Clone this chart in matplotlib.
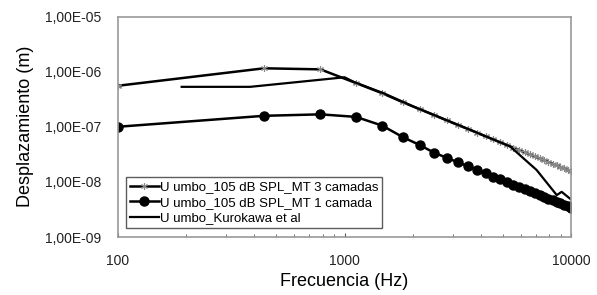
import matplotlib.pyplot as plt

# Frecuencias (Hz) de las simulaciones
freq_mt = [100, 441, 783, 1124, 1466, 1807, 2148, 2490, 2831, 3172,
           3514, 3855, 4197, 4538, 4879, 5221, 5562, 5903, 6245, 6586,
           6928, 7269, 7610, 7952, 8293, 8634, 8976, 9317, 9659, 10000]

# Desplazamiento umbo, 105 dB SPL, MT 3 camadas
umbo_3cam = [5.55e-7, 1.15e-6, 1.10e-6, 6.2e-7, 4.06e-7, 2.79e-7, 2.08e-7, 1.62e-7, 1.30e-7, 1.07e-7,
             9.1e-8, 7.75e-8, 6.7e-8, 5.88e-8, 5.2e-8, 4.64e-8, 4.18e-8, 3.78e-8, 3.43e-8, 3.14e-8,
             2.89e-8, 2.66e-8, 2.47e-8, 2.29e-8, 2.13e-8, 1.99e-8, 1.86e-8, 1.75e-8, 1.65e-8, 1.56e-8]

# Desplazamiento umbo, 105 dB SPL, MT 1 camada
umbo_1cam = [1.0e-7, 1.58e-7, 1.68e-7, 1.51e-7, 1.05e-7, 6.5e-8, 4.66e-8, 3.37e-8, 2.73e-8, 2.26e-8,
             1.91e-8, 1.64e-8, 1.43e-8, 1.25e-8, 1.11e-8, 9.9e-9, 8.9e-9, 8.1e-9, 7.4e-9, 6.75e-9,
             6.2e-9, 5.74e-9, 5.32e-9, 4.95e-9, 4.61e-9, 4.32e-9, 4.06e-9, 3.81e-9, 3.59e-9, 3.39e-9]

# Kurokawa et al
freq_kuro = [191, 383, 1000, 1100, 1500, 2000, 3000, 4000, 5380, 7050, 8650, 9090, 10000]
umbo_kuro = [5.3e-7, 5.3e-7, 7.9e-7, 6.5e-7, 4.0e-7, 2.36e-7, 1.19e-7, 7.3e-8, 4.4e-8, 1.64e-8,
             5.75e-9, 6.6e-9, 4.8e-9]

yticks = [1e-9, 1e-8, 1e-7, 1e-6, 1e-5]
ytick_labels = ['1,00E-09', '1,00E-08', '1,00E-07', '1,00E-06', '1,00E-05']
xticks = [100, 1000, 10000]
xtick_labels = ['100', '1000', '10000']

plt.rcParams['font.family'] = ['Liberation Sans', 'DejaVu Sans']
narrow = ['Liberation Sans Narrow', 'DejaVu Sans Condensed', 'Liberation Sans']

fig = plt.figure(figsize=(5.97, 2.95), dpi=100)
ax = fig.add_axes([0.1977, 0.1966, 0.7588, 0.7474])

ax.plot(freq_mt, umbo_3cam, color='black', linewidth=1.8, marker=(6, 2, 0),
        markersize=5, markeredgecolor='#888888', markeredgewidth=0.8,
        label='U umbo_105 dB SPL_MT 3 camadas')
ax.plot(freq_mt, umbo_1cam, color='black', linewidth=1.8, marker='o',
        markersize=6.5, label='U umbo_105 dB SPL_MT 1 camada')
ax.plot(freq_kuro, umbo_kuro, color='black', linewidth=1.6,
        label='U umbo_Kurokawa et al')

ax.set_xscale('log')
ax.set_yscale('log')
ax.set_xlim(100, 10000)
ax.set_ylim(1e-9, 1e-5)
ax.set_yticks(yticks)
ax.set_yticklabels(ytick_labels)
ax.set_xticks(xticks)
ax.set_xticklabels(xtick_labels)
ax.yaxis.set_minor_locator(plt.NullLocator())
ax.tick_params(axis='both', which='major', labelsize=10, length=0, pad=12, labelcolor='#222222')
ax.tick_params(axis='x', which='minor', direction='in', length=2.5, color='#555555')
ax.tick_params(axis='x', which='major', length=3, direction='in', color='#555555')

for s in ax.spines.values():
    s.set_color('#999999')
    s.set_linewidth(1.2)

ax.set_xlabel('Frecuencia (Hz)', fontsize=13, family=narrow, labelpad=4)
ax.set_ylabel('Desplazamiento (m)', fontsize=13, family=narrow, labelpad=8)

leg = ax.legend(loc='lower left', bbox_to_anchor=(0.017, 0.04), fontsize=9.5, frameon=True,
                fancybox=False, edgecolor='#333333', handlelength=2.2, handletextpad=0.1,
                borderpad=0.3, labelspacing=0.25, borderaxespad=0)
leg.get_frame().set_linewidth(1.0)

fig.savefig('out.png', dpi=100)
